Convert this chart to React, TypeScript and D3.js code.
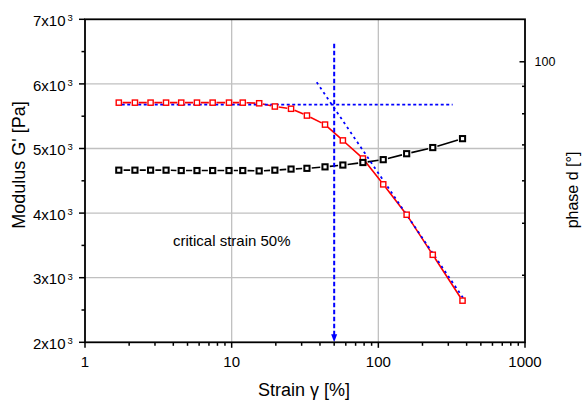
import React from "react";
import * as d3 from "d3";

const strain = [1.7, 2.19, 2.8, 3.57, 4.53, 5.8, 7.42, 9.59, 11.9, 15.4, 19.7, 25.4, 32.6, 43.3, 57.3, 78.5, 108, 156, 235, 375];
const modulus = [5710, 5710, 5710, 5710, 5710, 5710, 5710, 5710, 5710, 5700, 5650, 5615, 5510, 5370, 5125, 4845, 4445, 3975, 3355, 2645];
const phase = [62.8, 62.8, 62.8, 62.8, 62.7, 62.7, 62.7, 62.7, 62.7, 62.6, 62.8, 63.1, 63.3, 63.7, 64.2, 64.9, 65.7, 67.4, 69.2, 71.9];

const plateauStrain = [1.78, 321];
const plateauModulus = [5680, 5680];
const tangentStrain = [38, 392];
const tangentModulus = [6025, 2635];
const criticalStrain = 50;
const criticalTop = 6620;

const xTicks = [1, 10, 100, 1000];
const yTicks = [2000, 3000, 4000, 5000, 6000, 7000];
const yMinor = [2500, 3500, 4500, 5500, 6500];
const yGrid = [3000, 4000, 5000, 6000];
const xGrid = [10, 100];
const phaseMajor = [100];
const phaseMinor = [40, 50, 60, 70, 80, 90];

const W = 583, H = 401;
const L = 85, R = 525, T = 19.3, B = 342.3;

const x = d3.scaleLog().domain([1, 1000]).range([L, R]);
const y = d3.scaleLinear().domain([2000, 7000]).range([B, T]);
const yp = d3.scaleLog().domain([30, 120]).range([B, T]);

function gappedSegments(pts: [number, number][], gap: number) {
  const segs: string[] = [];
  for (let i = 0; i < pts.length - 1; i++) {
    const [x1, y1] = pts[i];
    const [x2, y2] = pts[i + 1];
    const dx = x2 - x1, dy = y2 - y1;
    const len = Math.hypot(dx, dy);
    if (len <= 2 * gap + 0.5) continue;
    const ux = dx / len, uy = dy / len;
    segs.push(`M${x1 + ux * gap},${y1 + uy * gap}L${x2 - ux * gap},${y2 - uy * gap}`);
  }
  return segs.join("");
}

export default function App() {
  const redPts: [number, number][] = strain.map((s, i) => [x(s), y(modulus[i])]);
  const blackPts: [number, number][] = strain.map((s, i) => [x(s), yp(phase[i])]);
  const minorX: number[] = [];
  for (let dec = 1; dec < 1000; dec *= 10) {
    for (let k = 2; k <= 9; k++) minorX.push(dec * k);
  }
  const font = "Arial, 'Liberation Sans', Helvetica, sans-serif";
  const line = d3.line<[number, number]>();
  const cx = x(criticalStrain);
  return (
    <svg width={W} height={H} style={{ position: "absolute", left: 0, top: 0, background: "#fff" }} fontFamily={font}>
      <rect x={0} y={0} width={W} height={H} fill="#fff" />
      {yGrid.map((v) => (
        <line key={"gy" + v} x1={L} x2={R} y1={y(v)} y2={y(v)} stroke="#c0c0c0" strokeWidth={1.3} />
      ))}
      {xGrid.map((v) => (
        <line key={"gx" + v} x1={x(v)} x2={x(v)} y1={T} y2={B} stroke="#c0c0c0" strokeWidth={1.3} />
      ))}
      <path d={gappedSegments(redPts, 3.8)} stroke="#ff0000" strokeWidth={1.6} fill="none" />
      <path d={gappedSegments(blackPts, 4.8)} stroke="#000" strokeWidth={1.6} fill="none" />
      <path
        d={line(plateauStrain.map((s, i) => [x(s), y(plateauModulus[i])]) as [number, number][]) || ""}
        stroke="#0000ff" strokeWidth={1.8} strokeDasharray="3,2.5" fill="none"
      />
      <path
        d={line(tangentStrain.map((s, i) => [x(s), y(tangentModulus[i])]) as [number, number][]) || ""}
        stroke="#0000ff" strokeWidth={1.8} strokeDasharray="2.5,3.5" fill="none"
      />
      <line x1={cx} x2={cx} y1={y(criticalTop)} y2={B - 6} stroke="#0000ff" strokeWidth={2} strokeDasharray="4.5,2.5" />
      <path d={`M${cx - 3},${B - 8}L${cx + 3},${B - 8}L${cx},${B}Z`} fill="#0000ff" />
      {redPts.map(([px, py], i) => (
        <rect key={"r" + i} x={px - 2.6} y={py - 2.6} width={5.2} height={5.2} fill="#fff" stroke="#ff0000" strokeWidth={1.4} />
      ))}
      {blackPts.map(([px, py], i) => (
        <rect key={"b" + i} x={px - 2.6} y={py - 2.6} width={5.2} height={5.2} fill="#fff" stroke="#000" strokeWidth={2} />
      ))}
      <rect x={L} y={T} width={R - L} height={B - T} fill="none" stroke="#000" strokeWidth={1.8} />
      {yTicks.map((v) => (
        <g key={"yt" + v}>
          <line x1={L - 6} x2={L} y1={y(v)} y2={y(v)} stroke="#000" strokeWidth={1.5} />
          <text x={65.5} y={y(v) + 6.7} fontSize={15} textAnchor="end" fill="#000">
            {`${v / 1000}x10`}
          </text>
          <text x={67.5} y={y(v) + 1.8} fontSize={9.5} fill="#000">3</text>
        </g>
      ))}
      {yMinor.map((v) => (
        <line key={"ym" + v} x1={L - 3.5} x2={L} y1={y(v)} y2={y(v)} stroke="#000" strokeWidth={1.5} />
      ))}
      {xTicks.map((v) => (
        <g key={"xt" + v}>
          <line x1={x(v)} x2={x(v)} y1={B} y2={B + 5.5} stroke="#000" strokeWidth={1.5} />
          <text x={x(v)} y={367} fontSize={15} textAnchor="middle" fill="#000">{v}</text>
        </g>
      ))}
      {minorX.map((v) => (
        <line key={"xm" + v} x1={x(v)} x2={x(v)} y1={B} y2={B + 3.5} stroke="#000" strokeWidth={1.5} />
      ))}
      {phaseMajor.map((v) => (
        <g key={"pt" + v}>
          <line x1={R - 5.5} x2={R} y1={yp(v)} y2={yp(v)} stroke="#000" strokeWidth={1.5} />
          <text x={534.5} y={yp(v) + 4.6} fontSize={12.5} fill="#000">{v}</text>
        </g>
      ))}
      {phaseMinor.map((v) => (
        <line key={"pm" + v} x1={R - 3} x2={R} y1={yp(v)} y2={yp(v)} stroke="#000" strokeWidth={1.5} />
      ))}
      <text x={304} y={396} fontSize={18} textAnchor="middle" fill="#000">Strain γ [%]</text>
      <text transform="translate(25,165) rotate(-90)" fontSize={18} textAnchor="middle" fill="#000">Modulus G' [Pa]</text>
      <text transform="translate(578,190) rotate(-90)" fontSize={16} textAnchor="middle" fill="#000">phase d [°]</text>
      <text x={173} y={246} fontSize={15} fill="#000">critical strain 50%</text>
    </svg>
  );
}
